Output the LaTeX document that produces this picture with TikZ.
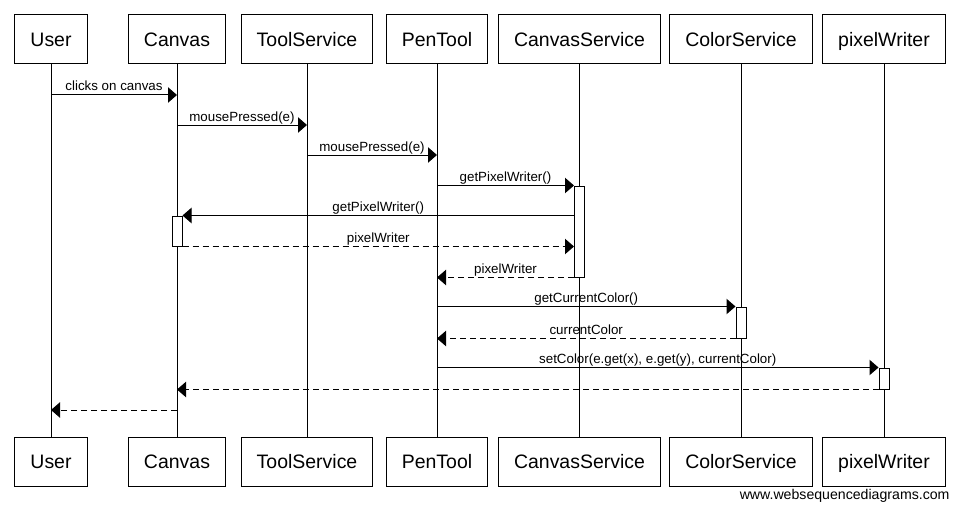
\documentclass[tikz,border=0pt]{standalone}
\usepackage{fontspec}
\setmainfont{Liberation Sans}
\usetikzlibrary{arrows.meta}

\begin{document}
\begin{tikzpicture}[x=0.75pt,y=-0.75pt,line width=0.75pt,
    actor/.style={draw=black,fill=white,inner xsep=11.6pt,minimum height=36.75pt,text height=10.4pt,text depth=0pt,font=\fontsize{14.6}{17}\selectfont},
    actbar/.style={draw=black,fill=white,minimum width=7.5pt,inner sep=0pt},
    call/.style={-{Triangle[length=6.75pt,width=11.5pt]}},
    reply/.style={call,dash pattern=on 4.5pt off 3pt},
    msg/.style={font=\fontsize{10}{12}\selectfont,anchor=base,yshift=3pt,inner sep=0pt}]
  \useasboundingbox (0,0) rectangle (960,510);
  \node[actor] (userT) at (51,39.5) {User};
  \node[actor] (canvasT) at (177,39.5) {Canvas};
  \node[actor] (toolT) at (307,39.5) {ToolService};
  \node[actor] (penT) at (437,39.5) {PenTool};
  \node[actor] (csT) at (579.5,39.5) {CanvasService};
  \node[actor] (colT) at (741,39.5) {ColorService};
  \node[actor] (pwT) at (884,39.5) {pixelWriter};
  \node[actor] (userB) at (51,461.5) {User};
  \node[actor] (canvasB) at (177,461.5) {Canvas};
  \node[actor] (toolB) at (307,461.5) {ToolService};
  \node[actor] (penB) at (437,461.5) {PenTool};
  \node[actor] (csB) at (579.5,461.5) {CanvasService};
  \node[actor] (colB) at (741,461.5) {ColorService};
  \node[actor] (pwB) at (884,461.5) {pixelWriter};
  \draw (userT) -- (userB);
  \draw (canvasT) -- (canvasB);
  \draw (toolT) -- (toolB);
  \draw (penT) -- (penB);
  \draw (csT) -- (csB);
  \draw (colT) -- (colB);
  \draw (pwT) -- (pwB);
  \node[actbar,minimum height=68.25pt] (csBar) at (579.5,231.5) {};
  \node[actbar,minimum height=22.5pt] (cvBar) at (177,231) {};
  \node[actbar,minimum height=23.25pt] (colBar) at (741,322.5) {};
  \node[actbar,minimum height=15.75pt] (pwBar) at (884,378.5) {};
  \draw[call] (userT |- 0,95) -- node[msg] {clicks on canvas} (canvasT |- 0,95);
  \draw[call] (canvasT |- 0,125) -- node[msg] {mousePressed(e)} (toolT |- 0,125);
  \draw[call] (toolT |- 0,155) -- node[msg] {mousePressed(e)} (penT |- 0,155);
  \draw[call] (penT |- csBar.north) -- node[msg] {getPixelWriter()} (csBar.north west);
  \draw[call] (csBar.west |- cvBar.north) -- node[msg] {getPixelWriter()} (cvBar.north east);
  \draw[reply] (cvBar.south east) -- node[msg] {pixelWriter} (csBar.west |- cvBar.south);
  \draw[reply] (csBar.south west) -- node[msg] {pixelWriter} (penT |- csBar.south);
  \draw[call] (penT |- colBar.north) -- node[msg] {getCurrentColor()} (colBar.north west);
  \draw[reply] (colBar.south west) -- node[msg] {currentColor} (penT |- colBar.south);
  \draw[call] (penT |- pwBar.north) -- node[msg] {setColor(e.get(x), e.get(y), currentColor)} (pwBar.north west);
  \draw[reply] (pwBar.south west) -- (canvasT |- pwBar.south);
  \draw[reply] (canvasT |- 0,410) -- (userT |- 0,410);
  \node[anchor=base east,inner sep=0pt,font=\fontsize{10.6}{12}\selectfont] (wsd) at (950,499) {www.websequencediagrams.com};
\end{tikzpicture}
\end{document}
